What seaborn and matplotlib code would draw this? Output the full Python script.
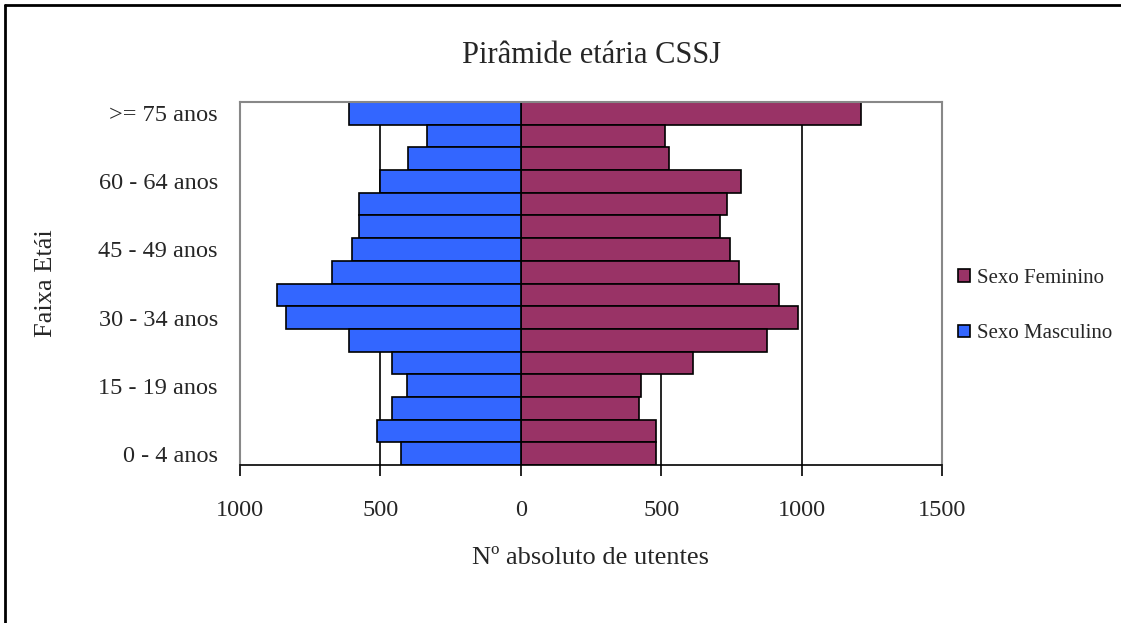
import matplotlib
matplotlib.use("Agg")
import matplotlib.pyplot as plt
from matplotlib.lines import Line2D
from matplotlib.ticker import FuncFormatter
import seaborn as sns
import pandas as pd

age_groups = ["0 - 4 anos", "5 - 9 anos", "10 - 14 anos", "15 - 19 anos",
              "20 - 24 anos", "25 - 29 anos", "30 - 34 anos", "35 - 39 anos",
              "40 - 44 anos", "45 - 49 anos", "50 - 54 anos", "55 - 59 anos",
              "60 - 64 anos", "65 - 69 anos", "70 - 74 anos", ">= 75 anos"]
masculino = [426, 513, 457, 407, 457, 612, 836, 867, 674, 600, 575, 575, 501, 402, 333, 613]
feminino = [480, 480, 422, 428, 615, 876, 988, 919, 776, 745, 709, 733, 783, 528, 515, 1212]
shown_labels = ["0 - 4 anos", "15 - 19 anos", "30 - 34 anos", "45 - 49 anos",
                "60 - 64 anos", ">= 75 anos"]
x_ticks = [-1000, -500, 0, 500, 1000, 1500]

sns.set_style("white")
plt.rcParams['font.family'] = ['Liberation Serif', 'DejaVu Serif']

order = age_groups[::-1]
df = pd.DataFrame({
    "Faixa": age_groups * 2,
    "Valor": [-v for v in masculino] + feminino,
    "Sexo": ["Sexo Masculino"] * len(age_groups) + ["Sexo Feminino"] * len(age_groups),
})

fig = plt.figure(figsize=(11.21, 6.23), dpi=100)
ax = fig.add_axes([240 / 1121, 1 - 465 / 623, (942 - 240) / 1121, (465 - 102) / 623])

for g in [-500, 0, 500, 1000]:
    ax.axvline(g, color="black", lw=1.2, zorder=0)

sns.barplot(data=df, x="Valor", y="Faixa", hue="Sexo", order=order,
            hue_order=["Sexo Feminino", "Sexo Masculino"],
            palette={"Sexo Feminino": "#993366", "Sexo Masculino": "#3366FF"},
            saturation=1, dodge=False, width=1.0, edgecolor="black", linewidth=1.2,
            orient="h", ax=ax, zorder=2)

ax.set_xlim(-1000, 1500)
ax.set_ylim(len(order) - 0.5, -0.5)
ax.set_xticks(x_ticks)
ax.xaxis.set_major_formatter(FuncFormatter(lambda v, p: f"{abs(int(v))}"))
ax.set_yticks([order.index(l) for l in shown_labels])
ax.set_yticklabels(shown_labels)
ax.tick_params(axis="x", direction="out", length=8, width=1.2, color="black",
               labelsize=17.5, pad=17, bottom=True)
ax.tick_params(axis="y", length=0, labelsize=17.5, pad=16)
for t in ax.get_yticklabels():
    t.set_va("center_baseline")

for s in ["top", "left", "right"]:
    ax.spines[s].set_color("#888888")
    ax.spines[s].set_linewidth(1.5)
ax.spines["bottom"].set_color("black")
ax.spines["bottom"].set_linewidth(1.2)

ax.set_xlabel("Nº absoluto de utentes", fontsize=19, labelpad=19)
ax.set_ylabel("Faixa Etái", fontsize=19, labelpad=30)
ax.set_title("Pirâmide etária CSSJ", fontsize=22, pad=28)

handles, labels = ax.get_legend_handles_labels()
ax.get_legend().remove()
ax.legend(handles, labels, loc="center left", bbox_to_anchor=(948 / 1121, 1 - 306 / 623),
          bbox_transform=fig.transFigure, frameon=False, fontsize=15,
          handlelength=0.55, handleheight=0.55, handletextpad=0.35, labelspacing=1.75,
          borderpad=0)

fig.add_artist(Line2D([5 / 1121, 1], [1 - 5 / 623, 1 - 5 / 623], color="black", lw=2,
                      transform=fig.transFigure))
fig.add_artist(Line2D([5 / 1121, 5 / 1121], [0, 1 - 5 / 623], color="black", lw=2,
                      transform=fig.transFigure))

fig.savefig("out.png", dpi=100)
